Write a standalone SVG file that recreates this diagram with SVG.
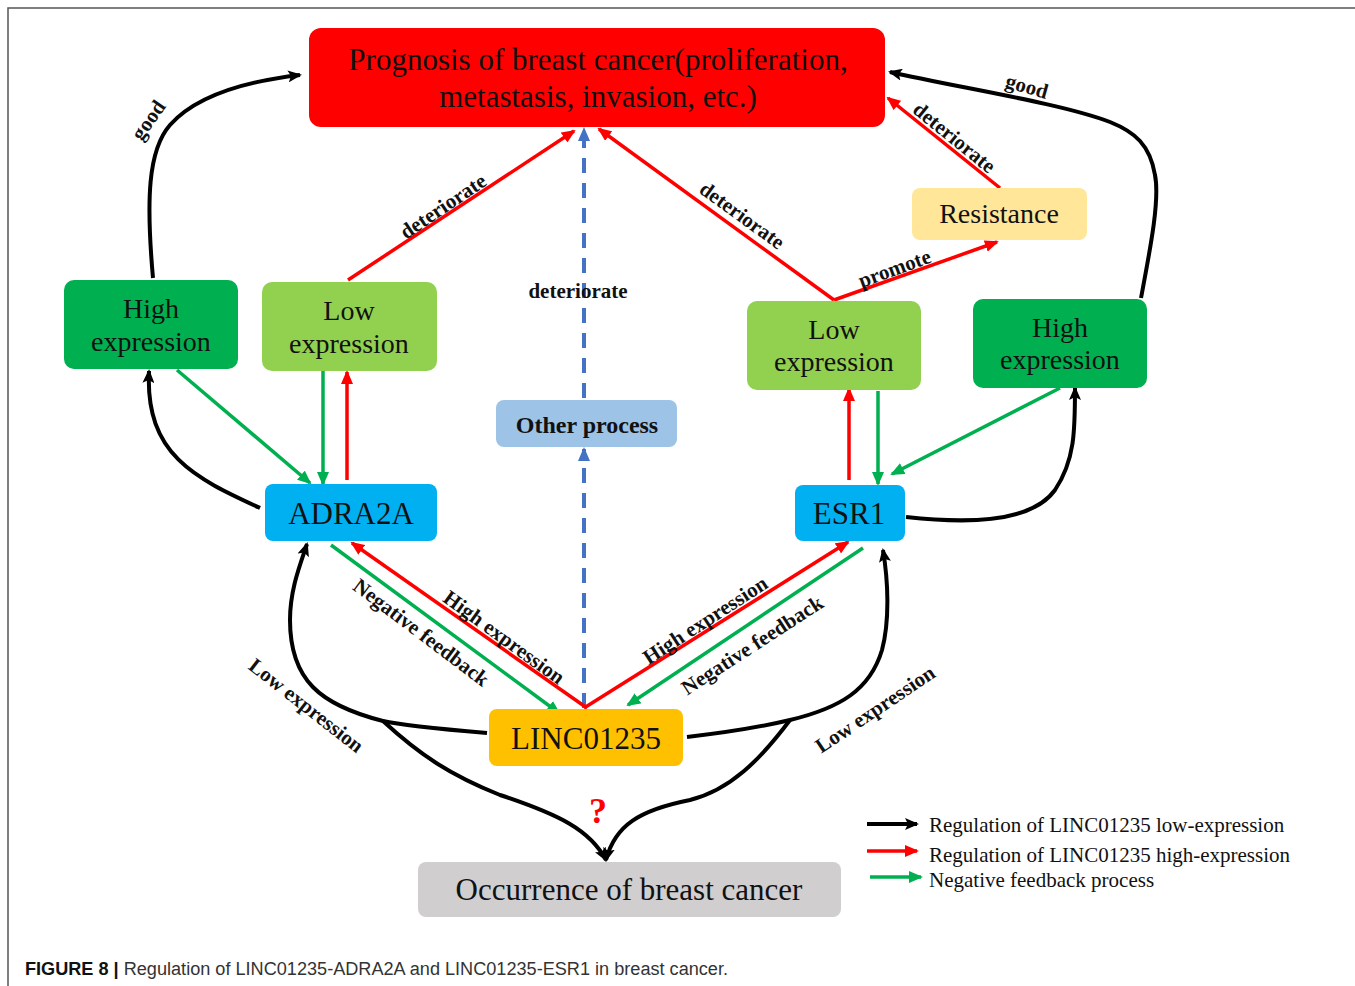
<svg xmlns="http://www.w3.org/2000/svg" width="1355" height="986" viewBox="0 0 1355 986">
<style>
.box{stroke:none}
.t{font-family:"Liberation Serif","Times New Roman",serif;fill:#111;text-anchor:middle}
.lbl{font-family:"Liberation Serif","Times New Roman",serif;font-weight:bold;font-size:21px;fill:#111;text-anchor:middle}
.leg{font-family:"Liberation Serif","Times New Roman",serif;font-size:21px;fill:#111}
.k{fill:none;stroke:#000;stroke-width:4}
.r{fill:none;stroke:#FF0000;stroke-width:3.5}
.g{fill:none;stroke:#00B050;stroke-width:3.5}
.b{fill:none;stroke:#4472C4;stroke-width:4;stroke-dasharray:15 10}
</style>
<defs>
<marker id="ak" viewBox="0 0 14 12" refX="12" refY="6" markerWidth="14" markerHeight="12" markerUnits="userSpaceOnUse" orient="auto"><path d="M0,0 L14,6 L0,12 L3,6 z" fill="#000"/></marker>
<marker id="ar" viewBox="0 0 14 12" refX="12" refY="6" markerWidth="14" markerHeight="12" markerUnits="userSpaceOnUse" orient="auto"><path d="M0,0 L14,6 L0,12 z" fill="#FF0000"/></marker>
<marker id="ag" viewBox="0 0 14 12" refX="12" refY="6" markerWidth="14" markerHeight="12" markerUnits="userSpaceOnUse" orient="auto"><path d="M0,0 L14,6 L0,12 z" fill="#00B050"/></marker>
<marker id="ab" viewBox="0 0 14 12" refX="12" refY="6" markerWidth="14" markerHeight="12" markerUnits="userSpaceOnUse" orient="auto"><path d="M0,0 L14,6 L0,12 z" fill="#4472C4"/></marker>
</defs>
<rect width="1355" height="986" fill="#fff"/>
<path d="M8,986 L8,8 L1355,8" fill="none" stroke="#555" stroke-width="1.5"/>

<g id="connectors">
<path class="k" d="M153,278 C146,200 148,150 170,125 C195,97 240,82 300,75" marker-end="url(#ak)"/>
<path class="k" d="M1141,298 C1150,250 1160,200 1155,175 C1150,145 1135,132 1110,122 C1060,103 960,88 890,72" marker-end="url(#ak)"/>
<path class="r" d="M348,280 L574,131" marker-end="url(#ar)"/>
<path class="b" d="M584,398 L584,129" marker-end="url(#ab)"/>
<path class="b" d="M584,708 L584,449" marker-end="url(#ab)"/>
<path class="r" d="M834,300 L599,129" marker-end="url(#ar)"/>
<path class="r" d="M834,300 L997,242" marker-end="url(#ar)"/>
<path class="r" d="M1000,188 L888,98" marker-end="url(#ar)"/>
<path class="k" d="M260,508 C195,478 145,455 149,371" marker-end="url(#ak)"/>
<path class="g" d="M177,370 L310,483" marker-end="url(#ag)"/>
<path class="g" d="M323,370 L323,484" marker-end="url(#ag)"/>
<path class="r" d="M347,480 L347,372" marker-end="url(#ar)"/>
<path class="r" d="M849,480 L849,389" marker-end="url(#ar)"/>
<path class="g" d="M878,391 L878,484" marker-end="url(#ag)"/>
<path class="g" d="M1060,388 L892,474" marker-end="url(#ag)"/>
<path class="k" d="M906,517 C960,523 1030,525 1055,490 C1075,460 1075,430 1075,388" marker-end="url(#ak)"/>
<path class="g" d="M331,545 L559,713" marker-end="url(#ag)"/>
<path class="r" d="M587,708 L352,543" marker-end="url(#ar)"/>
<path class="r" d="M584,708 L848,542" marker-end="url(#ar)"/>
<path class="g" d="M863,548 L628,705" marker-end="url(#ag)"/>
<path class="k" d="M487,733 C440,729 400,725 383,721 C320,705 290,680 290,620 C290,590 300,565 307,544" marker-end="url(#ak)"/>
<path class="k" d="M383,721 C420,755 450,775 500,795 C560,815 590,830 606,860" marker-end="url(#ak)"/>
<path class="k" d="M687,737 C730,732 765,726 790,720 C840,708 870,690 882,650 C890,620 888,580 883,550" marker-end="url(#ak)"/>
<path class="k" d="M790,720 C760,760 730,790 690,800 C640,810 615,825 606,860" marker-end="url(#ak)"/>

<text class="lbl" transform="translate(154,124) rotate(-55)">good</text>
<text class="lbl" transform="translate(447,212) rotate(-34)">deteriorate</text>
<text class="lbl" x="578" y="298">deteriorate</text>
<text class="lbl" transform="translate(738,221) rotate(36)">deteriorate</text>
<text class="lbl" transform="translate(897,275) rotate(-20)">promote</text>
<text class="lbl" transform="translate(950,143) rotate(39)">deteriorate</text>
<text class="lbl" transform="translate(1025,93) rotate(16)">good</text>
<text class="lbl" transform="translate(417,638) rotate(37)">Negative feedback</text>
<text class="lbl" transform="translate(500,643) rotate(36)">High expression</text>
<text class="lbl" transform="translate(302,711) rotate(38)">Low expression</text>
<text class="lbl" transform="translate(709,626) rotate(-33)">High expression</text>
<text class="lbl" transform="translate(756,651) rotate(-33)">Negative feedback</text>
<text class="lbl" transform="translate(879,715) rotate(-34)">Low expression</text>
<text x="598" y="823" font-family="Liberation Serif, serif" font-weight="bold" font-size="36" fill="#FF0000" text-anchor="middle">?</text>
</g>

<g id="prognosis">
<rect class="box" x="309" y="28" width="576" height="99" rx="12" fill="#FF0000"/>
<text class="t" x="598" y="70" font-size="31">Prognosis of breast cancer(proliferation,</text>
<text class="t" x="598" y="107" font-size="31">metastasis, invasion, etc.)</text>
</g>
<g id="high-left">
<rect class="box" x="64" y="280" width="174" height="89" rx="10" fill="#00B050"/>
<text class="t" x="151" y="318" font-size="28">High</text>
<text class="t" x="151" y="351" font-size="28">expression</text>
</g>
<g id="low-left">
<rect class="box" x="262" y="282" width="175" height="89" rx="10" fill="#92D050"/>
<text class="t" x="349" y="320" font-size="28">Low</text>
<text class="t" x="349" y="353" font-size="28">expression</text>
</g>
<g id="adra2a">
<rect class="box" x="265" y="484" width="172" height="57" rx="8" fill="#00B0F0"/>
<text class="t" x="351" y="524" font-size="31">ADRA2A</text>
</g>
<g id="other-process">
<rect class="box" x="496" y="400" width="181" height="47" rx="8" fill="#9DC3E6"/>
<text class="t" x="587" y="433" font-size="24" font-weight="bold">Other process</text>
</g>
<g id="low-right">
<rect class="box" x="747" y="301" width="174" height="89" rx="10" fill="#92D050"/>
<text class="t" x="834" y="339" font-size="28">Low</text>
<text class="t" x="834" y="371" font-size="28">expression</text>
</g>
<g id="high-right">
<rect class="box" x="973" y="299" width="174" height="89" rx="10" fill="#00B050"/>
<text class="t" x="1060" y="337" font-size="28">High</text>
<text class="t" x="1060" y="369" font-size="28">expression</text>
</g>
<g id="resistance">
<rect class="box" x="912" y="188" width="175" height="52" rx="8" fill="#FFE699"/>
<text class="t" x="999" y="223" font-size="28">Resistance</text>
</g>
<g id="esr1">
<rect class="box" x="795" y="485" width="110" height="56" rx="8" fill="#00B0F0"/>
<text class="t" x="849" y="524" font-size="31">ESR1</text>
</g>
<g id="linc01235">
<rect class="box" x="489" y="709" width="194" height="57" rx="8" fill="#FFC000"/>
<text class="t" x="586" y="749" font-size="31">LINC01235</text>
</g>
<g id="occurrence">
<rect class="box" x="418" y="862" width="423" height="55" rx="8" fill="#D0CECE"/>
<text class="t" x="629" y="900" font-size="31">Occurrence of breast cancer</text>
</g>

<g id="legend">
<path class="k" d="M867,824 L917,824" marker-end="url(#ak)"/>
<path class="r" d="M867,851 L917,851" marker-end="url(#ar)"/>
<path class="g" d="M870,877 L921,877" marker-end="url(#ag)"/>
<text class="leg" x="929" y="832">Regulation of LINC01235 low-expression</text>
<text class="leg" x="929" y="862">Regulation of LINC01235 high-expression</text>
<text class="leg" x="929" y="887">Negative feedback process</text>
</g>

<text x="25" y="975" font-family="Liberation Sans, Arial, sans-serif" font-size="18" fill="#333" textLength="703" lengthAdjust="spacingAndGlyphs"><tspan font-weight="bold" fill="#111">FIGURE 8 |</tspan> Regulation of LINC01235-ADRA2A and LINC01235-ESR1 in breast cancer.</text>
</svg>
